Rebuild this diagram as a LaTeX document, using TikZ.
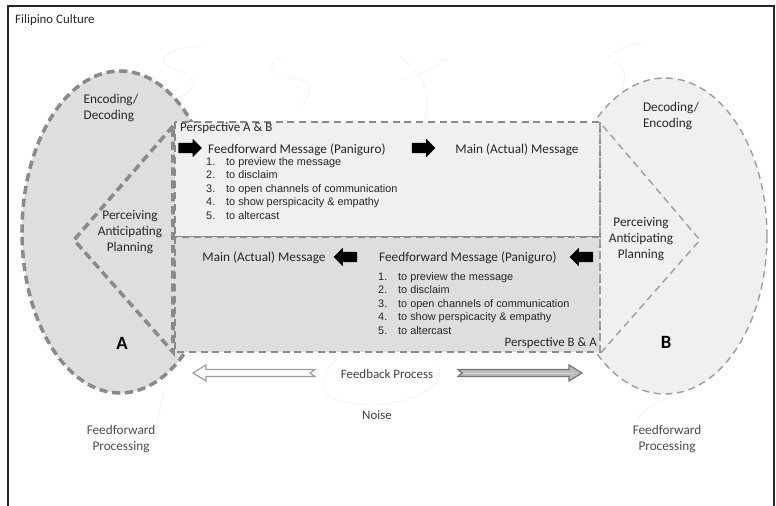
\documentclass[tikz,border=0pt]{standalone}
\usepackage{fontspec}
\setmainfont{Carlito}
\newfontfamily\listfont{Liberation Sans}
\usetikzlibrary{
  positioning,
  shapes.arrows
}

\definecolor{dashgray}{HTML}{8A8A8A}
\definecolor{litegray}{HTML}{9E9E9E}
\definecolor{fillA}{HTML}{DEDEDE}
\definecolor{fillB}{HTML}{F0F0F0}

\begin{document}
\begin{tikzpicture}[x=0.03cm, y=-0.03cm,
    every node/.style={inner sep=0pt, text=black!85},
    lbl/.style={font=\fontsize{11.3}{13.5}\selectfont, align=center},
    msg/.style={font=\fontsize{11.3}{13}\selectfont},
    small/.style={font=\fontsize{11}{13}\selectfont},
    items/.style={font=\listfont\fontsize{9.3}{11.6}\selectfont, align=left, anchor=north west},
    party/.style={font=\fontsize{16}{18}\selectfont\bfseries, text=black},
    thickdash/.style={draw=dashgray, line width=3pt, dash pattern=on 7pt off 4pt},
    thindash/.style={draw=litegray, line width=1.2pt, dash pattern=on 6pt off 4pt},
    blk/.style={single arrow, fill=black, minimum height=0.7cm, inner xsep=0pt, inner ysep=0.15cm,
      single arrow head extend=0.12cm, single arrow head indent=0pt},
    noise/.style={draw=black!7, line width=0.4pt}]
\useasboundingbox (0,0) rectangle (776,506);

% frame
\draw[black!85, line width=1pt] (8,506) -- (8,6) -- (774,6) -- (774,506);
\node[small, anchor=west] (culture) at (15,20) {Filipino Culture};

% noise lines
\draw[noise] (203,45) .. controls (160,50) and (150,62) .. (182,72) .. controls (205,80) and (190,92) .. (178,98);
\draw[noise] (283,58) .. controls (262,62) and (270,78) .. (300,80) .. controls (320,84) and (305,104) .. (296,110);
\draw[noise] (400,56) .. controls (418,72) and (432,84) .. (425,118) .. controls (420,140) and (412,150) .. (408,160);
\draw[noise] (400,80) .. controls (420,76) and (430,70) .. (447,58);
\draw[noise] (645,42) .. controls (620,48) and (600,55) .. (615,62) .. controls (630,70) and (625,85) .. (618,95);
\draw[noise] (338,358) .. controls (320,372) and (318,390) .. (332,398) .. controls (350,405) and (380,408) .. (405,400) .. controls (430,392) and (445,380) .. (438,365);
\draw[noise] (165,388) .. controls (162,400) and (158,415) .. (155,440);
\draw[noise] (680,393) .. controls (660,400) and (640,410) .. (636,422);

% person B
\draw[thindash, fill=fillB] (665,236) ellipse (102 and 158);
% person A
\draw[thickdash, fill=fillA] (120,232) ellipse (98 and 161);

% perspective boxes
\draw[draw=dashgray, line width=1.6pt, dash pattern=on 6pt off 4pt, fill=fillB] (175,122) rectangle (600,237);
\draw[draw=dashgray, line width=2.4pt, dash pattern=on 6pt off 4pt, fill=fillA] (175,237) rectangle (600,352);
\draw[thindash] (600,122) -- (600,352);

% perceiving wedges
\draw[thickdash] (173,126) -- (74,240) -- (173,352) -- cycle;
\draw[thindash] (603,126) -- (700,240) -- (598,356);

% A side labels
\node[lbl, align=left] (codA) at (111,108) {Encoding/\\Decoding};
\node[lbl] (percA) at (130,232) {Perceiving\\Anticipating\\Planning};
\node[party] (partyA) at (122,343) {A};
\node[lbl, text=black!70] (ffpA) at (121,439) {Feedforward\\Processing};

% B side labels
\node[lbl, align=left] (codB) at (671,116) {Decoding/\\Encoding};
\node[lbl] (percB) at (641,239) {Perceiving\\Anticipating\\Planning};
\node[party] (partyB) at (666,342) {B};
\node[lbl, text=black!70] (ffpB) at (667,439) {Feedforward\\Processing};

% perspective A & B
\node[small, anchor=west] (perspAB) at (180,128) {Perspective A \& B};
\node[blk] (inAB) at (187.5,148) {};
\node[msg, anchor=west] (ffAB) at (208,150) {Feedforward Message (Paniguro)};
\node[items] (listAB) at (206,157) {%
  \makebox[17pt][l]{1.}to preview the message\\
  \makebox[17pt][l]{2.}to disclaim\\
  \makebox[17pt][l]{3.}to open channels of communication\\
  \makebox[17pt][l]{4.}to show perspicacity \& empathy\\
  \makebox[17pt][l]{5.}to altercast};
\node[blk] (midAB) at (421,148) {};
\node[msg] (mainAB) at (517,150) {Main (Actual) Message};

% perspective B & A
\node[blk, shape border rotate=180] (inBA) at (584,257) {};
\node[msg, anchor=west] (ffBA) at (379,258) {Feedforward Message (Paniguro)};
\node[items] (listBA) at (378,272) {%
  \makebox[17pt][l]{1.}to preview the message\\
  \makebox[17pt][l]{2.}to disclaim\\
  \makebox[17pt][l]{3.}to open channels of communication\\
  \makebox[17pt][l]{4.}to show perspicacity \& empathy\\
  \makebox[17pt][l]{5.}to altercast};
\node[blk, shape border rotate=180] (midBA) at (348,257) {};
\node[msg] (mainBA) at (264,258) {Main (Actual) Message};
\node[small, anchor=east] (perspBA) at (597,343) {Perspective B \& A};

% feedback
\node[small, text=black!75] (fb) at (387,374) {Feedback Process};
\node[small, text=black!75] (noiseLbl) at (377,415) {Noise};
\draw[litegray, line width=1pt, fill=white]
  (193,373) -- (206,365) -- (206,369.5) -- (315,369.5) -- (310,373) -- (315,376.5) -- (206,376.5) -- (206,381) -- cycle;
\draw[black!55, line width=1pt, fill=litegray!70]
  (582,373) -- (569,365) -- (569,369.5) -- (458,369.5) -- (462,373) -- (458,376.5) -- (569,376.5) -- (569,381) -- cycle;
\draw[white!85!black, line width=0.8pt] (463,373) -- (574,373);
\end{tikzpicture}
\end{document}
